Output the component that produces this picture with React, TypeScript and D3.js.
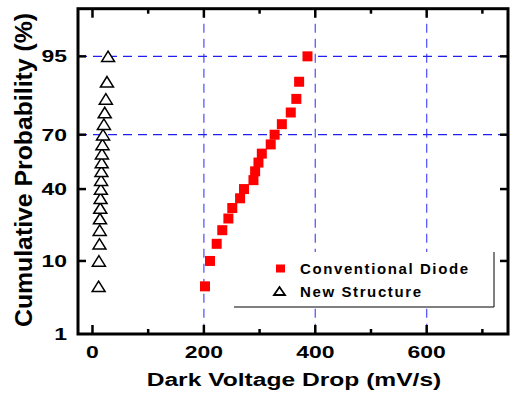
import React from "react";
import * as d3 from "d3";

// cumulative probability (%) for each sorted sample
const probs = [5, 10, 15, 20, 25, 30, 35, 40, 45, 50, 55, 60, 65, 70, 75, 80, 85, 90, 95];
const conventional = [202, 211, 223, 233, 244, 251, 265, 272, 289, 292, 298, 304, 320, 327, 340, 356, 366, 371, 386];
const newStructure = [11, 11.5, 12.5, 13, 13.5, 14, 14.5, 15, 15.5, 16, 16.5, 17, 18, 19, 20.5, 22, 24, 26, 28];

const xTicks = [0, 200, 400, 600];
const xMinor = [100, 300, 500, 700];
const yTicks = [1, 10, 40, 70, 95];
const xGrid = [200, 400, 600];
const yGrid = [70, 95];

const font = "'Liberation Sans', Arial, sans-serif";

// inverse normal cdf (Acklam)
function probit(p: number): number {
  const a = [-39.69683028665376, 220.9460984245205, -275.9285104469687, 138.357751867269, -30.66479806614716, 2.506628277459239];
  const b = [-54.47609879822406, 161.5858368580409, -155.6989798598866, 66.80131188771972, -13.28068155288572];
  const c = [-0.007784894002430293, -0.3223964580411365, -2.400758277161838, -2.549732539343734, 4.374664141464968, 2.938163982698783];
  const d = [0.007784695709041462, 0.3224671290700398, 2.445134137142996, 3.754408661907416];
  const plow = 0.02425;
  if (p < plow) {
    const q = Math.sqrt(-2 * Math.log(p));
    return (((((c[0] * q + c[1]) * q + c[2]) * q + c[3]) * q + c[4]) * q + c[5]) / ((((d[0] * q + d[1]) * q + d[2]) * q + d[3]) * q + 1);
  }
  if (p <= 1 - plow) {
    const q = p - 0.5;
    const r = q * q;
    return ((((((a[0] * r + a[1]) * r + a[2]) * r + a[3]) * r + a[4]) * r + a[5]) * q) / (((((b[0] * r + b[1]) * r + b[2]) * r + b[3]) * r + b[4]) * r + 1);
  }
  const q = Math.sqrt(-2 * Math.log(1 - p));
  return -(((((c[0] * q + c[1]) * q + c[2]) * q + c[3]) * q + c[4]) * q + c[5]) / ((((d[0] * q + d[1]) * q + d[2]) * q + d[3]) * q + 1);
}

const left = 78, right = 508, top = 8.7, bottom = 334;

const xScale = d3.scaleLinear().domain([-26, 746]).range([left, right]);
const zScale = d3.scaleLinear().domain([probit(0.01), probit(0.99)]).range([bottom, top]);
const yScale = (pct: number) => zScale(probit(pct / 100));

const tri = (cx: number, cy: number, w: number, h: number) =>
  `M${cx - w / 2},${cy + h / 2}L${cx},${cy - h / 2}L${cx + w / 2},${cy + h / 2}Z`;

const App = () => {
  const sq = 10;
  return (
    <svg
      width={510}
      height={396}
      style={{ position: "absolute", left: 0, top: 0, background: "#fff" }}
      fontFamily={font}
      fontWeight="bold"
    >
      {/* grid */}
      {xGrid.map((v) => (
        <line key={"gx" + v} x1={xScale(v)} x2={xScale(v)} y1={top} y2={bottom}
          stroke="#5a5aff" strokeWidth={1.3} strokeDasharray="9,6" />
      ))}
      {yGrid.map((v) => (
        <line key={"gy" + v} x1={left} x2={right} y1={yScale(v)} y2={yScale(v)}
          stroke="#2020f0" strokeWidth={1.3} strokeDasharray="9,6" />
      ))}

      {/* legend box */}
      <rect x={234} y={252} width={260} height={55} fill="#fff" />
      <line x1={234} x2={494} y1={307} y2={307} stroke="#000" strokeWidth={1} />
      <line x1={494} x2={494} y1={252} y2={307} stroke="#000" strokeWidth={1} />
      <rect x={276} y={264.5} width={9} height={8} fill="#ff0000" />
      <path d={tri(279.5, 291, 11, 8)} fill="#fff" stroke="#000" strokeWidth={1.8} />
      <text x={300} y={274} fontSize={15} textLength={168} lengthAdjust="spacing">Conventional Diode</text>
      <text x={300} y={297} fontSize={15} textLength={121} lengthAdjust="spacing">New Structure</text>

      {/* data */}
      {newStructure.map((v, i) => (
        <path key={"n" + i} d={tri(xScale(v), yScale(probs[i]), 13, 10.5)} fill="#fff" stroke="#000" strokeWidth={1.5} />
      ))}
      {conventional.map((v, i) => (
        <rect key={"c" + i} x={xScale(v) - sq / 2} y={yScale(probs[i]) - sq / 2} width={sq} height={sq} fill="#ff0000" />
      ))}

      {/* ticks */}
      {xTicks.map((v) => (
        <g key={"xt" + v}>
          <line x1={xScale(v)} x2={xScale(v)} y1={bottom} y2={bottom - 9} stroke="#000" strokeWidth={2.5} />
          <line x1={xScale(v)} x2={xScale(v)} y1={top} y2={top + 9} stroke="#000" strokeWidth={2.5} />
          <text transform={`translate(${xScale(v)},358) scale(1.35,1)`} textAnchor="middle" fontSize={17}>{v}</text>
        </g>
      ))}
      {xMinor.map((v) => (
        <g key={"xm" + v}>
          <line x1={xScale(v)} x2={xScale(v)} y1={bottom} y2={bottom - 5} stroke="#000" strokeWidth={2.5} />
          <line x1={xScale(v)} x2={xScale(v)} y1={top} y2={top + 5} stroke="#000" strokeWidth={2.5} />
        </g>
      ))}
      {yTicks.map((v) => (
        <g key={"yt" + v}>
          {v > 1 && <line x1={left} x2={left + 8} y1={yScale(v)} y2={yScale(v)} stroke="#000" strokeWidth={2.5} />}
          {v > 1 && <line x1={right} x2={right - 8} y1={yScale(v)} y2={yScale(v)} stroke="#000" strokeWidth={2.5} />}
          <text transform={`translate(67,${yScale(v) + 6}) scale(1.35,1)`} textAnchor="end" fontSize={17}>{v}</text>
        </g>
      ))}

      {/* frame */}
      <rect x={left} y={top} width={right - left} height={bottom - top} fill="none" stroke="#000" strokeWidth={3} />

      {/* titles */}
      <text transform="translate(294,386) scale(1.33,1)" textAnchor="middle" fontSize={18.5}>Dark Voltage Drop (mV/s)</text>
      <text transform="translate(32,170) scale(1.36,1) rotate(-90)" textAnchor="middle" fontSize={17.5}
        textLength={314} lengthAdjust="spacingAndGlyphs">Cumulative Probability (%)</text>
    </svg>
  );
};

export default App;
